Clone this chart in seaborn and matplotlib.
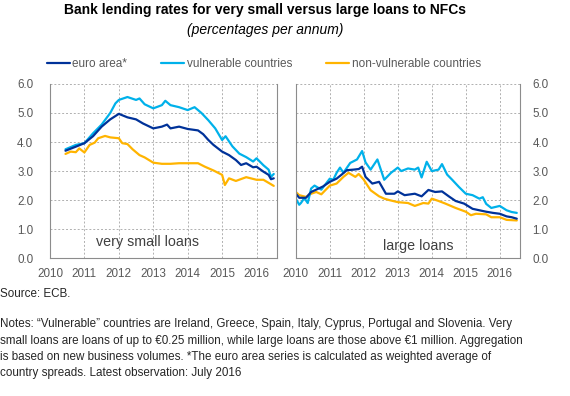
import numpy as np
import pandas as pd
import matplotlib
matplotlib.use("Agg")
import matplotlib.pyplot as plt
import seaborn as sns

# colours
EA_COL = "#003299"
VUL_COL = "#00B1EA"
NV_COL = "#FFB400"

# very small loans (decimal years, % p.a.)
small_vul_t = [2010.45, 2010.75, 2011.0, 2011.25, 2011.5, 2011.75, 2011.9, 2012.0, 2012.25, 2012.5,
               2012.6, 2012.75, 2013.0, 2013.25, 2013.35, 2013.5, 2013.75, 2014.0, 2014.2, 2014.4,
               2014.6, 2014.8, 2015.0, 2015.1, 2015.3, 2015.5, 2015.7, 2015.9, 2016.0, 2016.2,
               2016.35, 2016.42, 2016.5]
small_vul = [3.75, 3.9, 3.96, 4.3, 4.6, 5.0, 5.33, 5.45, 5.55, 5.45,
             5.5, 5.3, 5.16, 5.27, 5.42, 5.27, 5.2, 5.1, 5.2, 5.0,
             4.75, 4.47, 4.07, 4.2, 3.85, 3.6, 3.48, 3.33, 3.44, 3.2,
             3.05, 2.8, 2.9]

small_ea_t = [2010.45, 2010.75, 2011.0, 2011.25, 2011.5, 2011.75, 2012.0, 2012.25, 2012.5, 2012.7,
              2013.0, 2013.25, 2013.4, 2013.5, 2013.75, 2014.0, 2014.3, 2014.45, 2014.6, 2014.75,
              2015.0, 2015.2, 2015.4, 2015.55, 2015.7, 2015.9, 2016.0, 2016.2, 2016.35, 2016.42,
              2016.5]
small_ea = [3.7, 3.84, 3.96, 4.2, 4.53, 4.78, 4.97, 4.85, 4.78, 4.64,
            4.47, 4.53, 4.6, 4.47, 4.53, 4.45, 4.4, 4.27, 4.07, 3.9,
            3.67, 3.55, 3.38, 3.21, 3.27, 3.13, 3.15, 2.98, 2.87, 2.72,
            2.75]

small_nv_t = [2010.45, 2010.6, 2010.75, 2010.85, 2011.0, 2011.15, 2011.3, 2011.4, 2011.6, 2011.75,
              2012.0, 2012.1, 2012.25, 2012.4, 2012.6, 2012.75, 2013.0, 2013.25, 2013.5, 2013.75,
              2014.0, 2014.3, 2014.5, 2014.75, 2015.0, 2015.08, 2015.2, 2015.4, 2015.7, 2016.0,
              2016.2, 2016.5]
small_nv = [3.59, 3.67, 3.65, 3.78, 3.64, 3.9, 3.98, 4.13, 4.21, 4.16,
            4.13, 3.96, 3.93, 3.75, 3.55, 3.47, 3.29, 3.25, 3.25, 3.27,
            3.27, 3.27, 3.15, 3.02, 2.87, 2.52, 2.75, 2.66, 2.79, 2.7,
            2.7, 2.49]

# large loans
large_vul_t = [2010.0, 2010.1, 2010.15, 2010.25, 2010.35, 2010.45, 2010.55, 2010.75, 2011.0, 2011.1,
               2011.2, 2011.3, 2011.4, 2011.6, 2011.8, 2011.95, 2012.05, 2012.2, 2012.4, 2012.6,
               2012.8, 2013.0, 2013.1, 2013.3, 2013.5, 2013.6, 2013.7, 2013.85, 2014.0, 2014.2,
               2014.3, 2014.45, 2014.6, 2014.8, 2015.0, 2015.2, 2015.4, 2015.5, 2015.6, 2015.75,
               2016.0, 2016.2, 2016.35, 2016.5]
large_vul = [2.05, 1.84, 1.9, 2.07, 1.9, 2.4, 2.5, 2.36, 2.74, 2.7,
             2.94, 3.12, 2.94, 3.28, 3.4, 3.69, 3.3, 3.05, 3.4, 2.7,
             2.94, 3.12, 3.0, 3.09, 3.05, 3.12, 2.78, 3.32, 3.0, 3.05,
             3.24, 2.88, 2.7, 2.45, 2.22, 2.17, 2.05, 2.1, 1.87, 1.73,
             1.8, 1.65, 1.59, 1.56]

large_ea_t = [2010.0, 2010.1, 2010.3, 2010.45, 2010.6, 2010.8, 2011.0, 2011.2, 2011.35, 2011.5,
              2011.7, 2011.85, 2011.95, 2012.05, 2012.25, 2012.45, 2012.65, 2012.9, 2013.0, 2013.2,
              2013.5, 2013.7, 2013.9, 2014.1, 2014.3, 2014.5, 2014.7, 2014.95, 2015.2, 2015.4,
              2015.6, 2015.8, 2016.0, 2016.2, 2016.35, 2016.5]
large_ea = [2.22, 2.08, 2.08, 2.28, 2.36, 2.47, 2.63, 2.74, 2.88, 3.03,
            3.05, 3.07, 3.15, 2.8, 2.57, 2.63, 2.22, 2.22, 2.3, 2.17,
            2.22, 2.13, 2.35, 2.28, 2.3, 2.13, 1.97, 1.88, 1.7, 1.65,
            1.6, 1.56, 1.53, 1.44, 1.41, 1.36]

large_nv_t = [2010.0, 2010.1, 2010.3, 2010.45, 2010.6, 2010.75, 2011.0, 2011.2, 2011.4, 2011.55,
              2011.75, 2011.85, 2012.0, 2012.2, 2012.45, 2012.6, 2012.75, 2013.0, 2013.3, 2013.5,
              2013.75, 2013.9, 2014.0, 2014.2, 2014.4, 2014.7, 2015.0, 2015.15, 2015.3, 2015.6,
              2015.75, 2016.0, 2016.2, 2016.5]
large_nv = [2.28, 2.17, 2.11, 2.22, 2.28, 2.2, 2.5, 2.57, 2.8, 2.94,
            2.8, 2.9, 2.7, 2.34, 2.13, 2.05, 2.0, 1.93, 1.9, 1.8,
            1.9, 1.88, 2.05, 1.97, 1.88, 1.73, 1.6, 1.48, 1.53, 1.51,
            1.41, 1.41, 1.32, 1.3]

labels = ["euro area*", "vulnerable countries", "non-vulnerable countries"]
years = [2010, 2011, 2012, 2013, 2014, 2015, 2016]
yticks = [0.0, 1.0, 2.0, 3.0, 4.0, 5.0, 6.0]

sns.set_style("white")
plt.rcParams['font.family'] = ['Liberation Sans', 'DejaVu Sans']

fig = plt.figure(figsize=(5.7, 3.96), dpi=100)
ax1 = fig.add_axes([0.0877, 0.348, 0.398, 0.440])
ax2 = fig.add_axes([0.519, 0.348, 0.393, 0.440])

panels = [
    (ax1, [(small_ea_t, small_ea), (small_vul_t, small_vul), (small_nv_t, small_nv)]),
    (ax2, [(large_ea_t, large_ea), (large_vul_t, large_vul), (large_nv_t, large_nv)]),
]
# draw order: orange, light blue, dark blue on top
order = [2, 1, 0]
cols = [EA_COL, VUL_COL, NV_COL]
for ax, series in panels:
    for i in order:
        t, v = series[i]
        df = pd.DataFrame({"t": t, "v": v})
        sns.lineplot(data=df, x="t", y="v", ax=ax, color=cols[i], linewidth=1.6,
                     label=labels[i], legend=False)
    ax.set_xlim(2010, 2016.59)
    ax.set_ylim(0, 6)
    ax.set_xticks(years)
    ax.set_yticks(yticks)
    ax.set_yticklabels([f"{y:.1f}" for y in yticks])
    ax.set_xlabel("")
    ax.set_ylabel("")
    ax.grid(True, linestyle=(0, (2, 2)), color="#b0b0b0", linewidth=0.7)
    for s in ["left", "right", "bottom"]:
        ax.spines[s].set_color("#8c8c8c")
        ax.spines[s].set_linewidth(0.8)
    ax.spines["top"].set_visible(False)
    ax.tick_params(axis="both", colors="#595959", labelsize=8.4, width=0.8,
                   direction="out")
    ax.tick_params(axis="x", length=3, pad=4)
    ax.tick_params(axis="y", length=0, pad=12)

ax1.tick_params(axis="y", left=True, right=False, labelleft=True, labelright=False)
ax2.tick_params(axis="y", left=False, right=True, labelleft=False, labelright=True, pad=9)

ax1.text(0.43, 0.092, "very small loans", transform=ax1.transAxes, ha="center",
         va="center", fontsize=10.3, color="#404040")
ax2.text(0.547, 0.069, "large loans", transform=ax2.transAxes, ha="center",
         va="center", fontsize=10.3, color="#404040")

fig.text(0.465, 0.975, "Bank lending rates for very small versus large loans to NFCs",
         ha="center", va="center", fontsize=10, fontweight="bold", color="black")
fig.text(0.465, 0.925, "(percentages per annum)", ha="center", va="center",
         fontsize=10, style="italic", color="black")

handles = [plt.Line2D([], [], color=c, linewidth=1.6) for c in cols]
fig.legend(handles, labels, loc="center left", bbox_to_anchor=(0.082, 0.838), ncol=3,
           frameon=False, fontsize=8.5, handlelength=1.95, handletextpad=0.2,
           columnspacing=2.9, labelcolor="#595959", borderaxespad=0, borderpad=0)

fig.text(0.0, 0.257, "Source: ECB.", ha="left", va="center", fontsize=8.4)
notes = ("Notes: \u201cVulnerable\u201d countries are Ireland, Greece, Spain, Italy, Cyprus, Portugal and Slovenia. Very\n"
         "small loans are loans of up to \u20ac0.25 million, while large loans are those above \u20ac1 million. Aggregation\n"
         "is based on new business volumes. *The euro area series is calculated as weighted average of\n"
         "country spreads. Latest observation: July 2016")
fig.text(0.0, 0.196, notes, ha="left", va="top", fontsize=8.4, linespacing=1.47)

fig.savefig("out.png", dpi=100)
